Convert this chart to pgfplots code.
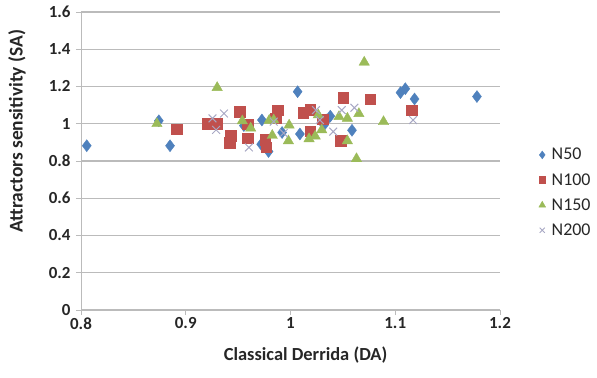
\documentclass[border=0pt]{standalone}
\usepackage{pgfplots}
\pgfplotsset{compat=1.18}
\usepackage{fontspec}
\setmainfont{Carlito}
\definecolor{cblue}{HTML}{4F81BD}
\definecolor{cred}{HTML}{C0504D}
\definecolor{cgreen}{HTML}{9BBB59}
\definecolor{cgray}{HTML}{A8A8C4}
\definecolor{gridc}{HTML}{BBBBBB}
\begin{document}
\begin{tikzpicture}
\useasboundingbox (-81bp,-68bp) rectangle (516bp,310bp);
\begin{axis}[
  at={(0,0)}, anchor=south west,
  scale only axis, width=419bp, height=298bp,
  xmin=0.8, xmax=1.2, ymin=0, ymax=1.6,
  xtick={0.8,0.9,1,1.1,1.2}, ytick={0,0.2,...,1.6},
  xticklabels={0.8,0.9,1,1.1,1.2},
  yticklabels={0,0.2,0.4,0.6,0.8,1,1.2,1.4,1.6},
  axis x line*=bottom, axis y line*=left,
  axis line style={gridc, line width=1pt},
  every tick/.style={gridc, line width=1pt},
  tick align=outside, major tick length=5bp,
  ymajorgrids, grid style={gridc, line width=1.1pt},
  ticklabel style={font=\fontsize{17}{19}\selectfont\bfseries, text=black!85},
  xticklabel style={yshift=1bp},
  yticklabel style={xshift=-2bp},
  xlabel={Classical Derrida (DA)}, ylabel={Attractors sensitivity (SA)},
  xlabel style={font=\fontsize{18.5}{21}\selectfont\bfseries, text=black!85,
    at={(axis description cs:0.536,-0.151)}, anchor=center},
  ylabel style={font=\fontsize{19.5}{22}\selectfont\bfseries, text=black!85,
    at={(axis description cs:-0.153,0.60)}, anchor=center},
  legend style={at={(1.085,0.394)}, anchor=west, draw=none, fill=none,
    font=\fontsize{18}{21}\selectfont, text=black!85, row sep=8bp,
    /tikz/every odd column/.append style={column sep=4bp}},
  legend cell align=left,
  legend image post style={scale=0.65},
  clip=false,
]
\addplot[only marks, mark=diamond*, mark size=6bp, color=cblue] coordinates {
(0.8055,0.882) (0.8743,1.016) (0.885,0.882) (0.9727,1.02) (0.9555,0.99)
(0.972,0.89) (0.979,0.851) (0.992,0.953) (1.0068,1.172) (1.009,0.945)
(1.032,0.993) (1.0346,1.02) (1.038,1.041) (1.0587,0.965) (1.105,1.167)
(1.1096,1.188) (1.1184,1.133) (1.178,1.146)
};
\addlegendentry{N50}
\addplot[only marks, mark=square*, mark size=5.3bp, color=cred] coordinates {
(0.8915,0.970) (0.921,0.999) (0.930,0.999) (0.943,0.935) (0.942,0.899)
(0.9515,1.066) (0.959,0.997) (0.959,0.922) (0.9757,0.915) (0.9768,0.874)
(0.9877,1.073) (0.986,1.029) (1.0123,1.059) (1.0188,1.077) (1.0188,0.961)
(1.0309,1.025) (1.0503,1.141) (1.048,0.908) (1.0759,1.132) (1.1158,1.073)
};
\addlegendentry{N100}
\addplot[only marks, mark=triangle*, mark size=6bp, color=cgreen] coordinates {
(0.8725,1.0) (0.930,1.194) (0.954,1.015) (0.962,0.976) (0.9797,1.018)
(0.9826,0.937) (0.984,1.02) (0.9987,0.992) (0.998,0.908) (1.0177,0.919)
(1.0236,0.933) (1.0265,1.047) (1.0298,0.967) (1.0463,1.038) (1.0543,1.029)
(1.0543,0.908) (1.063,0.812) (1.0653,1.054) (1.0704,1.330) (1.0888,1.011)
};
\addlegendentry{N150}
\addplot[only marks, mark=x, mark size=5.5bp, color=cgray, line width=1pt] coordinates {
(0.9255,1.029) (0.929,0.967) (0.9365,1.055) (0.9603,0.873) (0.984,1.011)
(0.9935,0.95) (1.0243,1.073) (1.028,1.02) (1.0408,0.958) (1.0489,1.073)
(1.061,1.086) (1.117,1.02)
};
\addlegendentry{N200}
\end{axis}
\end{tikzpicture}
\end{document}
